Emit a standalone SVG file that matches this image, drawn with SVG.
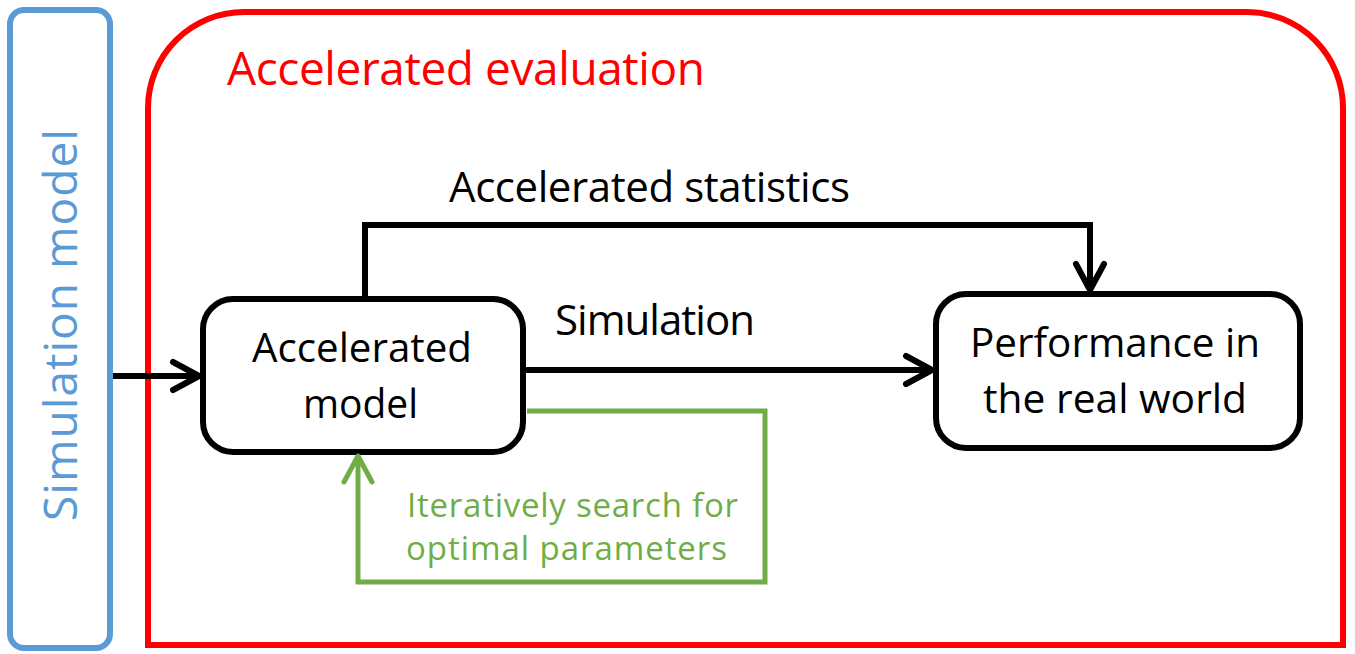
<svg xmlns="http://www.w3.org/2000/svg" width="1355" height="654" viewBox="0 0 1355 654">
<defs>
<style>
.t{font-family:"Open Sans",Lato,"Liberation Sans",sans-serif;}
.node{fill:#fff;stroke:#000;stroke-width:6;}
.k{fill:none;stroke:#000;stroke-width:6;stroke-linejoin:miter;}
.g{fill:none;stroke:#70AD47;stroke-width:5;}
</style>
<marker id="ab" viewBox="0 0 34 36" refX="30" refY="18" markerWidth="34" markerHeight="36" markerUnits="userSpaceOnUse" orient="auto">
<path d="M4,4 L30,18 L4,32" fill="none" stroke="#000" stroke-width="6" stroke-linecap="round" stroke-linejoin="round"/>
</marker>
<marker id="ag" viewBox="0 0 34 36" refX="30" refY="18" markerWidth="34" markerHeight="36" markerUnits="userSpaceOnUse" orient="auto">
<path d="M4,4 L30,18 L4,32" fill="none" stroke="#70AD47" stroke-width="5" stroke-linecap="round" stroke-linejoin="round"/>
</marker>
</defs>
<rect width="1355" height="654" fill="#fff"/>
<g id="simulation-model">
<rect x="10" y="10" width="100" height="638" rx="14" fill="#fff" stroke="#5B9BD5" stroke-width="6"/>
<text class="t" transform="translate(77,521) rotate(-90)" font-size="46" fill="#5B9BD5" textLength="392" lengthAdjust="spacing">Simulation model</text>
</g>
<g id="accelerated-evaluation">
<path d="M148,645 L148,108 A96,96 0 0 1 244,12 L1247,12 A96,96 0 0 1 1343,108 L1343,645 Z" fill="none" stroke="#FF0000" stroke-width="6"/>
<text class="t" x="227" y="85" font-size="46" fill="#FF0000" textLength="478" lengthAdjust="spacing">Accelerated evaluation</text>
</g>
<g id="accelerated-model">
<rect class="node" x="203" y="299" width="320" height="153" rx="30"/>
<text class="t" x="252" y="362" font-size="40" textLength="220" lengthAdjust="spacingAndGlyphs">Accelerated</text>
<text class="t" x="303" y="418" font-size="40" textLength="115" lengthAdjust="spacingAndGlyphs">model</text>
</g>
<g id="performance">
<rect class="node" x="936" y="294" width="364" height="154" rx="30"/>
<text class="t" x="970" y="357" font-size="40" textLength="290" lengthAdjust="spacingAndGlyphs">Performance in</text>
<text class="t" x="983" y="413" font-size="40" textLength="264" lengthAdjust="spacingAndGlyphs">the real world</text>
</g>
<g id="connectors">
<path class="k" d="M113,376 L199,376" marker-end="url(#ab)"/>
<path class="k" d="M365,296 L365,225 L1090,225 L1090,290" marker-end="url(#ab)"/>
<text class="t" x="449" y="202" font-size="42" textLength="401" lengthAdjust="spacing">Accelerated statistics</text>
<path class="k" d="M526,370 L932,370" marker-end="url(#ab)"/>
<text class="t" x="555" y="335" font-size="42" textLength="200" lengthAdjust="spacing">Simulation</text>
<path class="g" d="M527,411 L765,411 L765,582 L358,582 L358,456" marker-end="url(#ag)"/>
<text class="t" x="407" y="517" font-size="33" fill="#70AD47" textLength="331" lengthAdjust="spacing">Iteratively search for</text>
<text class="t" x="406" y="560" font-size="33" fill="#70AD47" textLength="321" lengthAdjust="spacing">optimal parameters</text>
</g>
</svg>
